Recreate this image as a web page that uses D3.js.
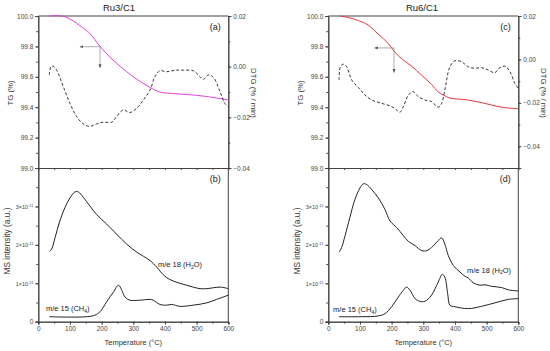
<!DOCTYPE html>
<html>
<head>
<meta charset="utf-8">
<script src="https://cdn.jsdelivr.net/npm/d3@7"></script>
<style>
  body { margin: 0; background: #fff; }
  svg { font-family: "Liberation Sans", Arial, sans-serif; }
  .axis path, .axis line { stroke: #444; }
  .axis text { fill: #444; font-size: 6.5px; }
</style>
</head>
<body>
<svg id="chart" width="550" height="351"></svg>
<script>
// Ru3/C1 TG (%) and DTG (%/min), temperature in °C
var tg3T   = [35, 74, 100, 142, 163, 195, 226, 258, 300, 353, 384, 426, 489, 532, 600];
var tg3V   = [100.0, 100.0, 99.98, 99.92, 99.885, 99.80, 99.73, 99.67, 99.60, 99.53, 99.50, 99.49, 99.48, 99.47, 99.448];
var dtg3T  = [35, 40, 47, 58, 79, 100, 121, 142, 163, 184, 205, 232, 247, 268, 289, 311, 332, 353, 368, 384, 405, 432, 458, 489, 511, 521, 537, 553, 574, 589, 600];
var dtg3V  = [-0.0033, 0.0, 0.0002, -0.0014, -0.0079, -0.0145, -0.0197, -0.0226, -0.0236, -0.0226, -0.0219, -0.0219, -0.0197, -0.0171, -0.0181, -0.0164, -0.0131, -0.0092, -0.0040, -0.0016, -0.0020, -0.0014, -0.0014, -0.0016, -0.0040, -0.0050, -0.0033, -0.0042, -0.0099, -0.0145, -0.0158];
// Ru3/C1 MS signals (×1e-11)
var h2o3T  = [35, 42, 53, 68, 84, 100, 116, 126, 142, 163, 184, 216, 247, 279, 311, 353, 374, 400, 426, 468, 511, 532, 574, 600];
var h2o3V  = [1.83, 1.89, 2.19, 2.62, 2.97, 3.22, 3.38, 3.38, 3.24, 3.01, 2.79, 2.54, 2.28, 2.02, 1.81, 1.59, 1.42, 1.18, 1.06, 0.95, 0.86, 0.86, 0.90, 0.86];
var ch43T  = [35, 89, 153, 179, 195, 216, 237, 253, 263, 274, 289, 321, 353, 363, 384, 405, 421, 447, 489, 532, 563, 600];
var ch43V  = [0.13, 0.12, 0.13, 0.17, 0.26, 0.52, 0.77, 0.95, 0.83, 0.64, 0.56, 0.56, 0.58, 0.56, 0.45, 0.43, 0.45, 0.40, 0.43, 0.49, 0.58, 0.69];

// Ru6/C1
var tg6T   = [37, 63, 95, 126, 158, 189, 211, 237, 263, 295, 326, 347, 363, 384, 400, 432, 484, 547, 600];
var tg6V   = [100.0, 99.99, 99.97, 99.94, 99.88, 99.82, 99.76, 99.71, 99.67, 99.61, 99.55, 99.50, 99.48, 99.46, 99.455, 99.45, 99.43, 99.40, 99.39];
var dtg6T  = [34, 38, 47, 58, 74, 95, 116, 137, 168, 200, 216, 226, 237, 253, 268, 284, 305, 326, 347, 358, 368, 384, 400, 421, 442, 463, 484, 505, 526, 539, 558, 574, 589, 600];
var dtg6V  = [-0.0095, -0.0034, -0.0022, -0.0034, -0.0095, -0.0129, -0.0164, -0.0187, -0.0202, -0.0217, -0.0233, -0.0243, -0.0217, -0.0164, -0.0148, -0.0171, -0.0187, -0.0194, -0.0220, -0.0202, -0.0141, -0.0034, -0.0006, -0.0011, -0.0034, -0.0041, -0.0038, -0.0049, -0.0061, -0.0041, -0.0031, -0.0057, -0.0110, -0.0133];
var h2o6T  = [34, 42, 53, 68, 84, 100, 111, 121, 137, 158, 179, 195, 216, 237, 253, 274, 295, 311, 326, 347, 358, 368, 379, 395, 416, 432, 442, 458, 479, 495, 516, 547, 568, 600];
var h2o6V  = [1.81, 1.93, 2.24, 2.71, 3.18, 3.48, 3.59, 3.57, 3.44, 3.22, 2.92, 2.62, 2.45, 2.24, 2.09, 1.98, 1.85, 1.85, 1.93, 2.11, 2.18, 2.02, 1.72, 1.46, 1.29, 1.18, 1.14, 1.01, 0.95, 0.96, 0.92, 0.89, 0.83, 0.80];
var ch46T  = [34, 105, 158, 179, 200, 221, 237, 247, 258, 274, 289, 305, 326, 347, 360, 368, 377, 384, 400, 442, 484, 526, 568, 600];
var ch46V  = [0.13, 0.13, 0.15, 0.21, 0.39, 0.64, 0.82, 0.90, 0.82, 0.60, 0.53, 0.53, 0.69, 1.03, 1.23, 1.16, 0.73, 0.43, 0.39, 0.34, 0.40, 0.49, 0.58, 0.60];

var tempTicks = [0, 100, 200, 300, 400, 500, 600];
var tgTicks   = [99.0, 99.2, 99.4, 99.6, 99.8, 100.0];
var dtgTicks  = [-0.04, -0.02, 0.00, 0.02];
var msTicks   = [0, 1, 2, 3];

function zip(a, b) { return a.map(function(d, i) { return [d, b[i]]; }); }

var svg = d3.select('#chart');
var defs = svg.append('defs');
defs.append('marker')
    .attr('id', 'arr').attr('viewBox', '0 0 6 6')
    .attr('refX', 5).attr('refY', 3)
    .attr('markerWidth', 5).attr('markerHeight', 5)
    .attr('orient', 'auto')
  .append('path').attr('d', 'M0,0.8L6,3L0,5.2Z').attr('fill', '#555');

function panel(opt) {
    var x = d3.scaleLinear().domain([0, 600]).range([opt.x0, opt.x0 + 190]);
    var yTg = d3.scaleLinear().domain([99.0, 100.0]).range([168, 16]);
    var yDtg = d3.scaleLinear().domain(opt.dtgDomain).range([168, 16]);
    var yMs = d3.scaleLinear().domain([0, 4]).range([321.7, 168]);
    var g = svg.append('g');

    var line = d3.line()
        .x(function(d) { return x(d[0]); })
        .y(function(d) { return d[1]; })
        .curve(d3.curveCatmullRom.alpha(0.5));

    // frame top
    g.append('line').attr('x1', x(0)).attr('x2', x(600)).attr('y1', 16).attr('y2', 16)
        .attr('stroke', '#444');
    // TG left axis
    g.append('g').attr('class', 'axis')
        .attr('transform', 'translate(' + x(0) + ',0)')
        .call(d3.axisLeft(yTg).tickValues(d3.range(99.0, 100.01, 0.1)).tickSize(2).tickFormat(''));
    g.append('g').attr('class', 'axis')
        .attr('transform', 'translate(' + x(0) + ',0)')
        .call(d3.axisLeft(yTg).tickValues(tgTicks).tickSize(3).tickPadding(2)
            .tickFormat(d3.format('.1f')));
    // DTG right axis
    g.append('g').attr('class', 'axis')
        .attr('transform', 'translate(' + x(600) + ',0)')
        .call(d3.axisRight(yDtg).tickValues(d3.range(opt.dtgDomain[0], 0.0201, 0.01)).tickSize(2).tickFormat(''));
    g.append('g').attr('class', 'axis')
        .attr('transform', 'translate(' + x(600) + ',0)')
        .call(d3.axisRight(yDtg).tickValues(dtgTicks).tickSize(3).tickPadding(2)
            .tickFormat(d3.format('.2f')));
    // middle x axis (no labels)
    g.append('g').attr('class', 'axis')
        .attr('transform', 'translate(0,168)')
        .call(d3.axisBottom(x).tickValues(d3.range(0, 601, 50)).tickSize(2).tickFormat(''));

    // MS axes
    g.append('g').attr('class', 'axis')
        .attr('transform', 'translate(' + x(0) + ',0)')
        .call(d3.axisLeft(yMs).tickValues(d3.range(0, 4.01, 0.5)).tickSize(2).tickFormat(''));
    var msAxis = g.append('g').attr('class', 'axis')
        .attr('transform', 'translate(' + x(0) + ',0)')
        .call(d3.axisLeft(yMs).tickValues(msTicks).tickSize(3).tickPadding(2));
    msAxis.selectAll('.tick text').each(function(d) {
        var t = d3.select(this).text('');
        if (d === 0) { t.text('0'); return; }
        t.style('font-size', '5.5px');
        t.append('tspan').text(d + '\u00d710');
        t.append('tspan').attr('dy', '-0.5em').style('font-size', '3.8px').text('-11');
    });
    g.append('line').attr('x1', x(600)).attr('x2', x(600)).attr('y1', 168).attr('y2', 321.7)
        .attr('stroke', '#444');
    g.append('g').attr('class', 'axis')
        .attr('transform', 'translate(0,321.7)')
        .call(d3.axisBottom(x).tickValues(d3.range(0, 601, 50)).tickSize(2).tickFormat(''));
    g.append('g').attr('class', 'axis')
        .attr('transform', 'translate(0,321.7)')
        .call(d3.axisBottom(x).tickValues(tempTicks).tickSize(3).tickPadding(2));
    g.selectAll('.axis .domain').attr('stroke', '#444');

    // curves
    g.append('path').datum(zip(opt.tgT, opt.tgV).map(function(d) { return [d[0], yTg(d[1])]; }))
        .attr('d', line).attr('fill', 'none').attr('stroke', opt.color).attr('stroke-width', 1);
    g.append('path').datum(zip(opt.dtgT, opt.dtgV).map(function(d) { return [d[0], yDtg(d[1])]; }))
        .attr('d', line).attr('fill', 'none').attr('stroke', '#222').attr('stroke-width', 0.9)
        .attr('stroke-dasharray', '3,2');
    g.append('path').datum(zip(opt.h2oT, opt.h2oV).map(function(d) { return [d[0], yMs(d[1])]; }))
        .attr('d', line).attr('fill', 'none').attr('stroke', '#222').attr('stroke-width', 1);
    g.append('path').datum(zip(opt.ch4T, opt.ch4V).map(function(d) { return [d[0], yMs(d[1])]; }))
        .attr('d', line).attr('fill', 'none').attr('stroke', '#222').attr('stroke-width', 1);

    // arrows
    var ax = x(opt.arrow[0]), ay = yTg(opt.arrow[1]);
    g.append('line').attr('x1', ax).attr('y1', ay).attr('x2', x(opt.arrow[2])).attr('y2', ay)
        .attr('stroke', '#999').attr('stroke-width', 0.8).attr('marker-end', 'url(#arr)');
    g.append('line').attr('x1', ax).attr('y1', ay).attr('x2', ax).attr('y2', yTg(opt.arrow[3]))
        .attr('stroke', '#999').attr('stroke-width', 0.8).attr('marker-end', 'url(#arr)');

    // texts
    var cx = x(300);
    g.append('text').attr('x', opt.titleX).attr('y', 10.5).attr('text-anchor', 'middle')
        .style('font-size', '9.5px').attr('fill', '#222').text(opt.title);
    g.append('text').attr('x', x(600) - 7.5).attr('y', 30).attr('text-anchor', 'end')
        .style('font-size', '9px').attr('fill', '#222').text(opt.tag1);
    g.append('text').attr('x', x(600) - 7.5).attr('y', 182).attr('text-anchor', 'end')
        .style('font-size', '9px').attr('fill', '#222').text(opt.tag2);
    g.append('text').attr('transform', 'translate(' + (opt.x0 - 25) + ',93) rotate(-90)')
        .attr('text-anchor', 'middle').style('font-size', '7.8px').attr('fill', '#333').text('TG (%)');
    g.append('text').attr('transform', 'translate(' + (opt.x0 + 213) + ',93) rotate(90)')
        .attr('text-anchor', 'middle').style('font-size', '7.8px').attr('fill', '#333').text('DTG (% / min)');
    g.append('text').attr('transform', 'translate(' + (opt.x0 - 28) + ',241) rotate(-90)')
        .attr('text-anchor', 'middle').style('font-size', '8.3px').attr('fill', '#333').text('MS intensity (a.u.)');
    g.append('text').attr('x', cx).attr('y', 345).attr('text-anchor', 'middle')
        .style('font-size', '7.5px').attr('fill', '#333').text('Temperature (\u00b0C)');

    var h = g.append('text').attr('x', x(opt.h2oLbl[0])).attr('y', yMs(opt.h2oLbl[1]))
        .style('font-size', '7.5px').attr('fill', '#222');
    h.append('tspan').text('m/e 18 (H');
    h.append('tspan').attr('dy', '1.8').style('font-size', '5px').text('2');
    h.append('tspan').attr('dy', '-1.8').text('O)');
    var c = g.append('text').attr('x', x(opt.ch4Lbl[0])).attr('y', yMs(opt.ch4Lbl[1]))
        .style('font-size', '7.5px').attr('fill', '#222');
    c.append('tspan').text('m/e 15 (CH');
    c.append('tspan').attr('dy', '1.8').style('font-size', '5px').text('4');
    c.append('tspan').attr('dy', '-1.8').text(')');
}

panel({
    x0: 38.3, title: 'Ru3/C1', titleX: 119, tag1: '(a)', tag2: '(b)', color: '#e640dc',
    dtgDomain: [-0.04, 0.02],
    tgT: tg3T, tgV: tg3V, dtgT: dtg3T, dtgV: dtg3V,
    h2oT: h2o3T, h2oV: h2o3V, ch4T: ch43T, ch4V: ch43V,
    arrow: [195, 99.798, 132, 99.66],
    h2oLbl: [378, 1.43], ch4Lbl: [24, 0.28]
});
panel({
    x0: 328.3, title: 'Ru6/C1', titleX: 422, tag1: '(c)', tag2: '(d)', color: '#e8323a',
    dtgDomain: [-0.05, 0.02],
    tgT: tg6T, tgV: tg6V, dtgT: dtg6T, dtgV: dtg6V,
    h2oT: h2o6T, h2oV: h2o6V, ch4T: ch46T, ch4V: ch46V,
    arrow: [207.5, 99.79, 147, 99.63],
    h2oLbl: [438, 1.28], ch4Lbl: [15, 0.24]
});
</script>
</body>
</html>
